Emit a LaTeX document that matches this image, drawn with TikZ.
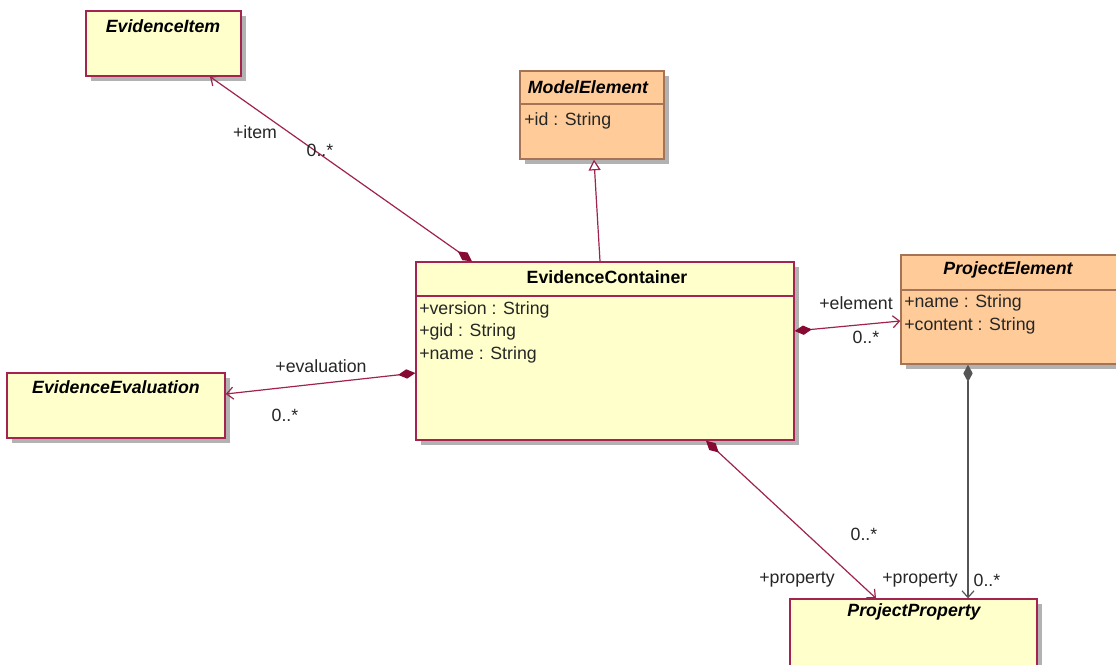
\documentclass[tikz,border=0pt]{standalone}
\usepackage{fontspec}
\setmainfont{Liberation Sans}
\usetikzlibrary{arrows.meta,fit,shadows,calc}
\definecolor{ybord}{RGB}{165,35,80}
\definecolor{yfill}{RGB}{255,255,204}
\definecolor{ofill}{RGB}{255,204,153}
\definecolor{obord}{RGB}{165,115,85}
\definecolor{lncol}{RGB}{160,35,75}
\definecolor{dmcol}{RGB}{135,10,50}
\definecolor{gline}{RGB}{85,85,85}
\definecolor{shgray}{RGB}{178,178,178}
\begin{document}
\begin{tikzpicture}[x=0.75pt,y=-0.75pt,
  box/.style={draw, line width=1pt, inner sep=0pt,
    drop shadow={shadow xshift=3.75pt, shadow yshift=-3.75pt, fill=shgray, opacity=1}},
  ybox/.style={box, draw=ybord, fill=yfill},
  obox/.style={box, draw=obord, fill=ofill},
  ttl/.style={font=\fontsize{13.3}{16}\selectfont\bfseries\itshape, inner sep=0pt},
  ttlup/.style={font=\fontsize{13.3}{16}\selectfont\bfseries, inner sep=0pt},
  attr/.style={font=\fontsize{13.3}{16}\selectfont, inner sep=0pt, anchor=west, text=black!85},
  lbl/.style={font=\fontsize{13.3}{16}\selectfont, inner sep=0pt, text=black!85},
  comp/.style={draw=lncol, line width=0.9pt,
    {Diamond[length=13pt,width=7pt,fill=dmcol,color=dmcol]}-{Straight Barb[length=5pt,width=9pt]}},
  compg/.style={draw=gline, line width=0.9pt,
    {Diamond[length=13pt,width=7pt,fill=gline,color=gline]}-{Straight Barb[length=5pt,width=9pt]}},
  gen/.style={draw=lncol, line width=0.9pt, -{Triangle[open,length=8pt,width=9pt,fill=white]}}
]
\clip (0,0) rectangle (1116,664);
\fill[white] (0,0) rectangle (1116,664);

% boxes
\node[ybox, fit={(86,11)(241,76)}] (ei) {};
\node[obox, fit={(520,71)(664,159)}] (me) {};
\node[ybox, fit={(416,262)(794,440)}] (ec) {};
\node[obox, fit={(901,255)(1122,364)}] (pe) {};
\node[ybox, fit={(7,373)(225,438)}] (ee) {};
\node[ybox, fit={(790,599)(1037,680)}] (pp) {};

% separators
\draw[obord, line width=0.8pt] (me.west |- 0,104) -- (me.east |- 0,104);
\draw[ybord, line width=0.8pt] (ec.west |- 0,296) -- (ec.east |- 0,296);
\draw[obord, line width=0.8pt] (pe.west |- 0,290) -- (pe.east |- 0,290);

% titles
\node[ttl] (eit) at (163,26) {EvidenceItem};
\node[ttl] (met) at (588,87) {ModelElement};
\node[ttlup] (ect) at (607,277) {EvidenceContainer};
\node[ttl] (pet) at (1008,270) {ProjectElement};
\node[ttl] (eet) at (116,387) {EvidenceEvaluation};
\node[ttl] (ppt) at (914,612) {ProjectProperty};

% attributes
\node[attr] (mea) at (524,121) {+id : String};
\node[attr] (eca1) at (419,310) {+version : String};
\node[attr] (eca2) at (419,332) {+gid : String};
\node[attr] (eca3) at (419,355) {+name : String};
\node[attr] (pea1) at (904,303) {+name : String};
\node[attr] (pea2) at (904,326) {+content : String};

% connectors
\draw[comp] (ec.north -| 472,0) -- (ei.south -| 210,0);
\draw[gen] (ec.north -| 600,0) -- (me.south -| 594,0);
\draw[comp] (ec.west |- 0,373) -- (ee.east |- 0,394);
\draw[comp] (ec.east |- 0,331) -- (pe.west |- 0,321);
\draw[comp] (ec.south -| 706,0) -- (pp.north -| 876,0);
\draw[compg] (pe.south -| 968,0) -- (pp.north -| 968,0);

% labels
\node[lbl] (l1) at (255,132) {+item};
\node[lbl] (l2) at (320,150) {0..*};
\node[lbl] (l3) at (321,366) {+evaluation};
\node[lbl] (l4) at (285,415) {0..*};
\node[lbl] (l5) at (856,303) {+element};
\node[lbl] (l6) at (866,337) {0..*};
\node[lbl] (l7) at (864,534) {0..*};
\node[lbl] (l8) at (797,580) {+property};
\node[lbl] (l9) at (920,580) {+property};
\node[lbl] (l10) at (987,580) {0..*};
\end{tikzpicture}
\end{document}
